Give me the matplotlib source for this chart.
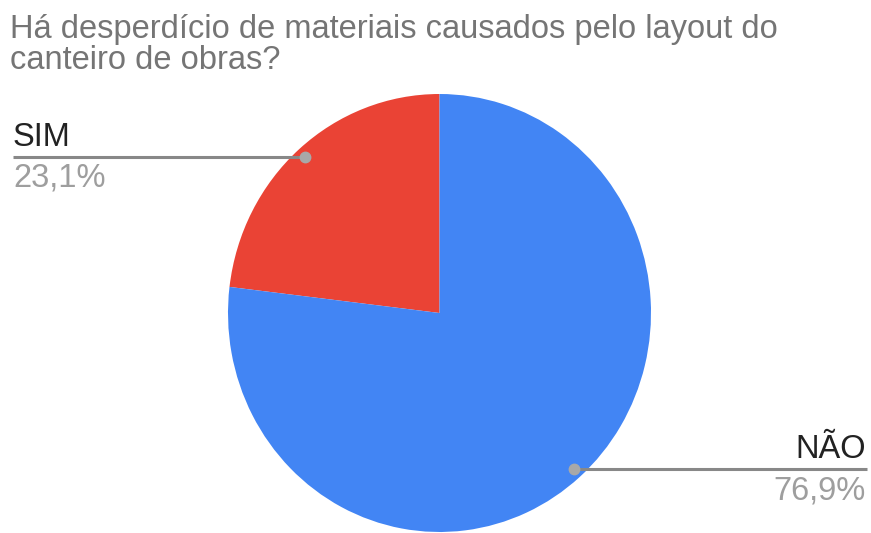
import numpy as np
import matplotlib
matplotlib.use("Agg")
import matplotlib.pyplot as plt

plt.rcParams['font.family'] = ['Liberation Sans', 'DejaVu Sans']

# Survey answers
title = "Há desperdício de materiais causados pelo layout do\ncanteiro de obras?"
labels = ["SIM", "NÃO"]
shares = [23.1, 76.9]
pct_text = ["23,1%", "76,9%"]
colors = ["#EA4335", "#4285F4"]

W, H = 871, 533
fig = plt.figure(figsize=(W / 100, H / 100), dpi=100)

# Pie axes placed in pixel terms (slightly taller than wide)
cx, cy, rx, ry = 439.5, 313, 211.5, 219
ax = fig.add_axes([(cx - rx) / W, (H - cy - ry) / H, 2 * rx / W, 2 * ry / H])
ax.pie(shares, colors=colors, startangle=90, counterclock=True,
       wedgeprops=dict(linewidth=0))
ax.set_aspect('auto')
ax.set_xlim(-1, 1)
ax.set_ylim(-1, 1)
ax.axis('off')

fig.text(10 / W, 1 - 38 / H, title.split("\n")[0], ha='left', va='baseline',
         fontsize=23.5, color='#757575')
fig.text(10 / W, 1 - 69 / H, title.split("\n")[1], ha='left', va='baseline',
         fontsize=23.5, color='#757575')

# Leader lines with dots at the slice mid-angles
cum = np.cumsum([0] + shares)
line_ends = [13, 867]
for i, lab in enumerate(labels):
    mid = np.deg2rad(90 + (cum[i] + cum[i + 1]) / 2 * 3.6)
    r = 0.955
    px, py = r * np.cos(mid), r * np.sin(mid)
    # x end in data coordinates from figure pixel position
    xe = ax.transData.inverted().transform(
        fig.transFigure.transform((line_ends[i] / W, 0.5)))[0]
    ax.plot([px, xe], [py, py], color='#888888', lw=2.2, clip_on=False,
            solid_capstyle='butt', zorder=3)
    ax.plot([px], [py], 'o', color='#a8a8a8', ms=7.5, clip_on=False, zorder=4)
    ypix = fig.transFigure.inverted().transform(ax.transData.transform((0, py)))[1]
    ha = 'left' if i == 0 else 'right'
    xt = (line_ends[i] - (0 if i == 0 else 1)) / W
    fig.text(xt, ypix + 11 / H, lab, ha=ha, va='baseline', fontsize=23.5,
             color='#222222')
    fig.text(xt, ypix - 30 / H, pct_text[i], ha=ha, va='baseline', fontsize=23.5,
             color='#9e9e9e')

fig.savefig("out.png", dpi=100)
